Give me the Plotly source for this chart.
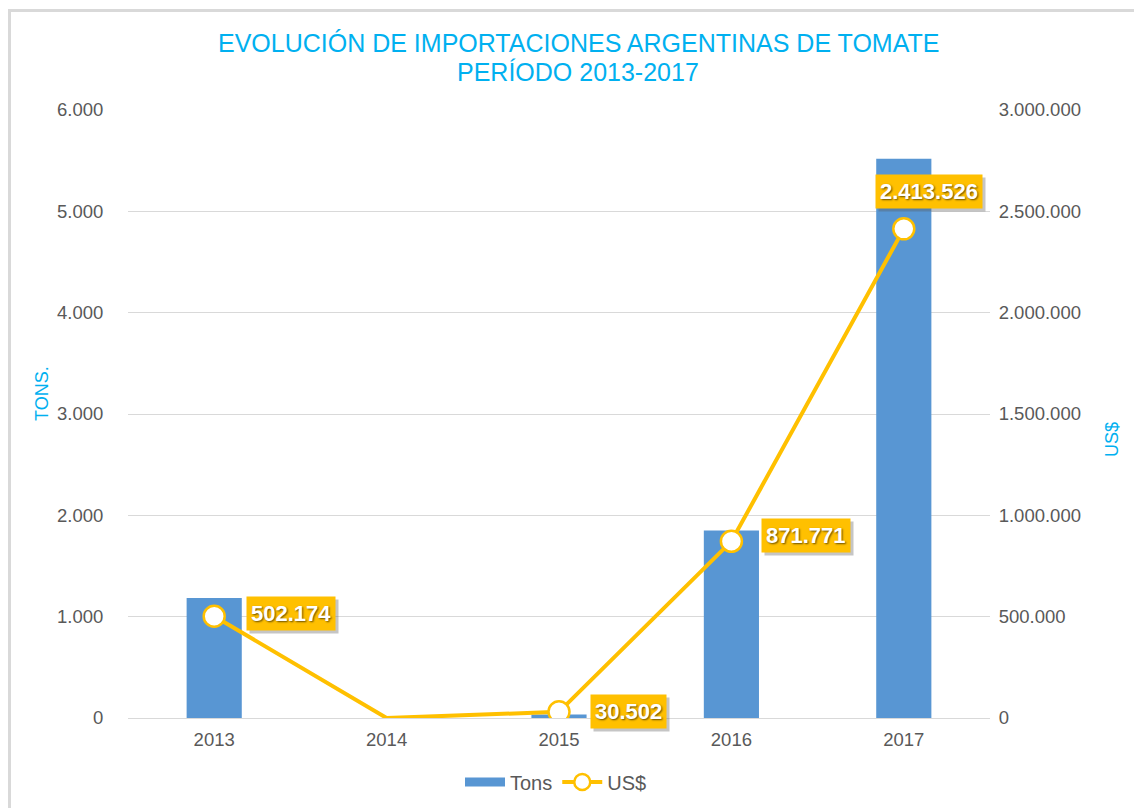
import plotly.graph_objects as go

years = ["2013", "2014", "2015", "2016", "2017"]
tons = [1185, 0, 35, 1850, 5520]
usd = [502174, 0, 30502, 871771, 2413526]
labels_usd = ["502.174", None, "30.502", "871.771", "2.413.526"]
label_shift = [(32, 3, "left"), None, (31, 0, "left"), (30, 6, "left"), (25, 37, "center")]
marker_sizes = [21, 0, 21, 21, 21]

left_ticks = [0, 1000, 2000, 3000, 4000, 5000, 6000]
left_ticktext = ["0", "1.000", "2.000", "3.000", "4.000", "5.000", "6.000"]
right_ticks = [0, 500000, 1000000, 1500000, 2000000, 2500000, 3000000]
right_ticktext = ["0", "500.000", "1.000.000", "1.500.000", "2.000.000", "2.500.000", "3.000.000"]

TITLE_BLUE = "#00B0F0"
GOLD = "#FFC000"
BAR_BLUE = "#5896D3"
GRAY = "#595959"
FONT = "Liberation Sans, Arial, sans-serif"

OFF = 8  # page body margin
W, H = 1142, 808
ML, MR, MT, MB = 120, 160, 102, 98
PW, PH = W - ML - MR, H - MT - MB

def px_to_paper_x(px):
    return (px - OFF - ML) / PW

def px_to_paper_y(py):
    return (H - MB - (py - OFF)) / PH

xi = list(range(len(years)))

fig = go.Figure()
fig.add_trace(go.Bar(
    x=xi, y=tons, name="Tons", width=0.32,
    marker=dict(color=BAR_BLUE, line=dict(width=0)),
    yaxis="y", showlegend=False,
))
fig.add_trace(go.Scatter(
    x=[None], y=[None], name="Tons", mode="lines",
    line=dict(color=BAR_BLUE, width=9), yaxis="y",
))
fig.add_trace(go.Scatter(
    x=xi, y=usd, name="US$", mode="lines+markers",
    line=dict(color=GOLD, width=4),
    marker=dict(size=marker_sizes, color="white", opacity=1,
                line=dict(color=GOLD, width=2.5)),
    yaxis="y2",
))

annotations = []
for i, val, txt, sh in zip(xi, usd, labels_usd, label_shift):
    if txt is None:
        continue
    xs, ys, anc = sh
    annotations.append(dict(
        x=i, y=val, xref="x", yref="y2", text=txt, showarrow=False,
        xanchor=anc, yanchor="middle", xshift=xs + 3, yshift=ys - 3,
        font=dict(family=FONT, size=22, color="rgba(0,0,0,0)", weight="bold"),
        bgcolor="rgba(90,90,90,0.35)", borderpad=4,
    ))
    annotations.append(dict(
        x=i, y=val, xref="x", yref="y2", text=txt, showarrow=False,
        xanchor=anc, yanchor="middle", xshift=xs, yshift=ys,
        font=dict(family=FONT, size=22, color="white", weight="bold",
                  shadow="1px 1px 2px rgba(0,0,0,0.6)"),
        bgcolor=GOLD, borderpad=4,
    ))

annotations.append(dict(
    x=px_to_paper_x(578), y=px_to_paper_y(43), xref="paper", yref="paper",
    text="EVOLUCIÓN DE IMPORTACIONES ARGENTINAS DE TOMATE", showarrow=False,
    xanchor="center", yanchor="middle",
    font=dict(family=FONT, size=25, color=TITLE_BLUE),
))
annotations.append(dict(
    x=px_to_paper_x(578), y=px_to_paper_y(72), xref="paper", yref="paper",
    text="PERÍODO 2013-2017", showarrow=False,
    xanchor="center", yanchor="middle",
    font=dict(family=FONT, size=25, color=TITLE_BLUE),
))
annotations.append(dict(
    x=px_to_paper_x(42), y=px_to_paper_y(394), xref="paper", yref="paper",
    text="TONS.", showarrow=False, textangle=-90,
    xanchor="center", yanchor="middle",
    font=dict(family=FONT, size=18, color=TITLE_BLUE),
))
annotations.append(dict(
    x=px_to_paper_x(1112), y=px_to_paper_y(440), xref="paper", yref="paper",
    text="US$", showarrow=False, textangle=-90,
    xanchor="center", yanchor="middle",
    font=dict(family=FONT, size=18, color=TITLE_BLUE),
))

fig.update_layout(
    width=W, height=H,
    margin=dict(l=ML, r=MR, t=MT, b=MB),
    paper_bgcolor="white", plot_bgcolor="white",
    xaxis=dict(
        range=[-0.5, 4.5], tickvals=xi, ticktext=years,
        showgrid=False, showline=False, zeroline=False,
        ticks="outside", ticklen=5, tickcolor="rgba(0,0,0,0)",
        tickfont=dict(family=FONT, size=18.5, color=GRAY),
    ),
    yaxis=dict(
        range=[0, 6000], tickvals=left_ticks, ticktext=left_ticktext,
        showgrid=True, gridcolor="#D9D9D9", gridwidth=1,
        zeroline=True, zerolinecolor="#D9D9D9", zerolinewidth=1,
        showline=False, ticks="outside", ticklen=20, tickcolor="rgba(0,0,0,0)",
        tickfont=dict(family=FONT, size=18.5, color=GRAY),
    ),
    yaxis2=dict(
        range=[0, 3000000], tickvals=right_ticks, ticktext=right_ticktext,
        overlaying="y", side="right", showgrid=False, zeroline=False,
        showline=False, ticks="outside", ticklen=4, tickcolor="rgba(0,0,0,0)",
        tickfont=dict(family=FONT, size=18.5, color=GRAY),
    ),
    legend=dict(
        orientation="h", x=px_to_paper_x(556), xanchor="center",
        y=px_to_paper_y(782), yanchor="middle",
        font=dict(family=FONT, size=20, color=GRAY),
        itemwidth=40, traceorder="normal",
    ),
    annotations=annotations,
    shapes=[dict(
        type="rect", xref="paper", yref="paper",
        x0=px_to_paper_x(9.5), x1=px_to_paper_x(1170),
        y0=px_to_paper_y(840), y1=px_to_paper_y(10.5),
        line=dict(color="#D9D9D9", width=3), fillcolor="rgba(0,0,0,0)",
        layer="below",
    )],
)

fig.write_html("out.html")
